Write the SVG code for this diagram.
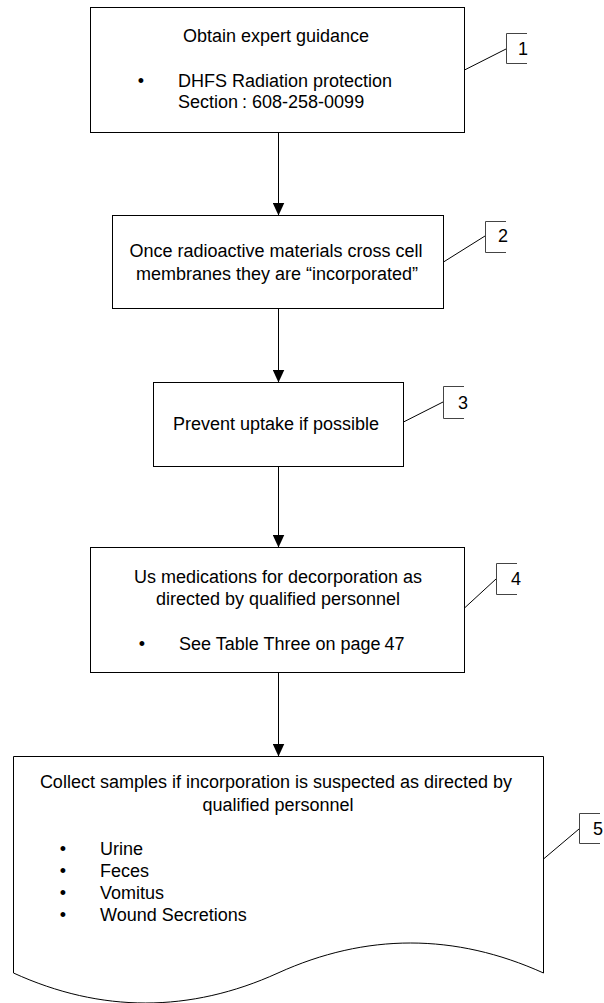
<svg xmlns="http://www.w3.org/2000/svg" width="604" height="1003" viewBox="0 0 604 1003">
<style>
.box{fill:#fff;stroke:#000;stroke-width:1}
.ln{fill:none;stroke:#000;stroke-width:1}
.br{fill:none;stroke:#444;stroke-width:1}
text{font-family:"Liberation Sans",Arial,sans-serif;font-size:18px;fill:#000}
.c{text-anchor:middle}
</style>
<defs>
<marker id="arr" markerUnits="userSpaceOnUse" markerWidth="13" markerHeight="12" refX="13" refY="6" orient="auto" viewBox="0 0 13 12">
<path d="M0,0 L13,6 L0,12 Z" fill="#000"/>
</marker>
</defs>
<rect width="604" height="1003" fill="#fff"/>
<g id="connectors">
<line class="ln" x1="278.5" y1="132.5" x2="278.5" y2="215.5" marker-end="url(#arr)"/>
<line class="ln" x1="278.5" y1="308.5" x2="278.5" y2="382.5" marker-end="url(#arr)"/>
<line class="ln" x1="278.5" y1="466.5" x2="278.5" y2="547.5" marker-end="url(#arr)"/>
<line class="ln" x1="278.5" y1="672.5" x2="278.5" y2="756.5" marker-end="url(#arr)"/>
<line class="ln" x1="464.5" y1="70" x2="506" y2="49"/>
<line class="ln" x1="443.5" y1="262" x2="485" y2="236"/>
<line class="ln" x1="403.5" y1="422" x2="443" y2="402"/>
<line class="ln" x1="464.5" y1="608" x2="496" y2="579"/>
<line class="ln" x1="543.5" y1="859" x2="579" y2="829"/>
</g>
<g id="node1">
<rect class="box" x="90.5" y="7.5" width="374" height="125"/>
<text class="c" x="276" y="42">Obtain expert guidance</text>
<text class="c" x="141" y="87">•</text>
<text x="178" y="87">DHFS Radiation protection</text>
<text x="178" y="108">Section<tspan dx="4">: 608-258-0099</tspan></text>
</g>
<g id="node2">
<rect class="box" x="112.5" y="215.5" width="331" height="93"/>
<text class="c" x="276" y="257">Once radioactive materials cross cell</text>
<text class="c" x="277" y="280">membranes they are “incorporated”</text>
</g>
<g id="node3">
<rect class="box" x="153.5" y="382.5" width="250" height="84"/>
<text class="c" x="276" y="430">Prevent uptake if possible</text>
</g>
<g id="node4">
<rect class="box" x="90.5" y="547.5" width="374" height="125"/>
<text class="c" x="278" y="583">Us medications for decorporation as</text>
<text class="c" x="278" y="605">directed by qualified personnel</text>
<text class="c" x="142" y="650">•</text>
<text x="179" y="650">See Table Three on page<tspan dx="4">47</tspan></text>
</g>
<g id="node5">
<path class="box" d="M13.5,756.5 H543.5 V973 C455,933 366,933 278,973 C190,1013 101,1013 13.5,973 Z"/>
<text class="c" x="276" y="788">Collect samples if incorporation is suspected as directed by</text>
<text class="c" x="278" y="811">qualified personnel</text>
<text class="c" x="63" y="855">•</text>
<text x="100" y="855">Urine</text>
<text class="c" x="63" y="877">•</text>
<text x="100" y="877">Feces</text>
<text class="c" x="63" y="899">•</text>
<text x="100" y="899">Vomitus</text>
<text class="c" x="63" y="921">•</text>
<text x="100" y="921">Wound Secretions</text>
</g>
<g id="callout1">
<path class="br" d="M527,33.5 H506.5 V63.5 H527"/>
<text x="518" y="55">1</text>
</g>
<g id="callout2">
<path class="br" d="M506,221.5 H485.5 V252.5 H506"/>
<text x="498" y="242">2</text>
</g>
<g id="callout3">
<path class="br" d="M464,386.5 H443.5 V418.5 H464"/>
<text x="458" y="409">3</text>
</g>
<g id="callout4">
<path class="br" d="M517,563.5 H496.5 V594.5 H517"/>
<text x="511" y="585">4</text>
</g>
<g id="callout5">
<path class="br" d="M600,813.5 H579.5 V843.5 H600"/>
<text x="593" y="835">5</text>
</g>
</svg>
